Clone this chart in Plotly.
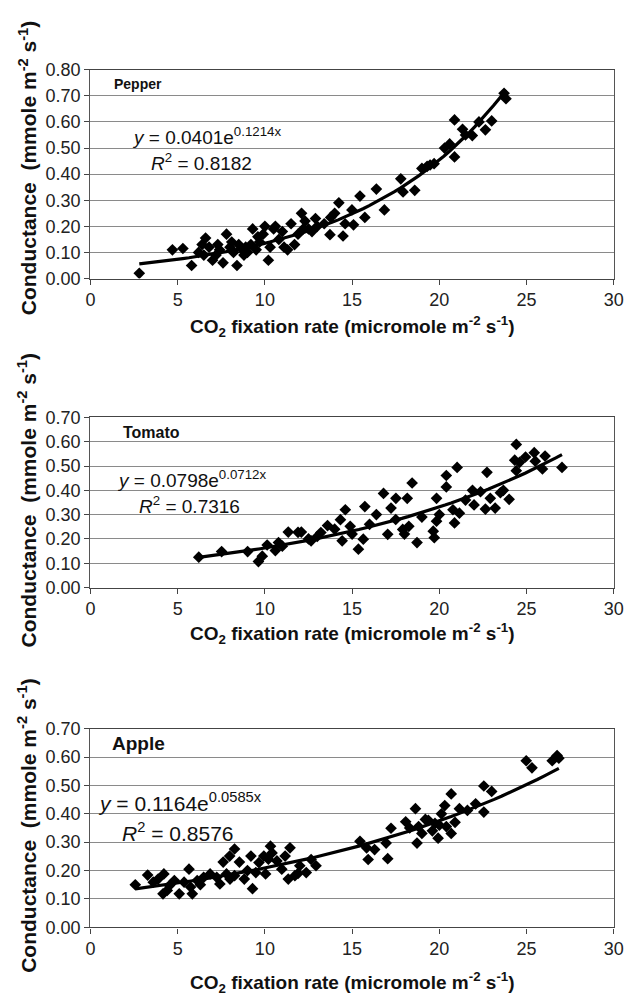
import math
import plotly.graph_objects as go

# ---------------- data ----------------
pepper_x = [2.8, 4.7, 5.3, 5.8, 6.2, 6.4, 6.6, 6.8, 7.0, 7.2, 7.4, 7.6, 7.8, 8.0, 8.2, 8.4,
            8.5, 8.7, 8.9, 9.0, 9.2, 9.3, 9.5, 9.7, 9.9, 10.0, 10.2, 10.3, 10.5, 10.8, 11.0,
            11.3, 11.5, 11.7, 11.9, 12.1, 12.3, 12.5, 12.7, 13.0, 13.4, 13.77, 14.24, 13.73,
            14.48, 14.99, 15.45, 15.08, 15.73, 16.39, 16.85, 17.79, 17.92, 18.59, 19.0, 19.3,
            19.47, 19.7, 20.59, 20.87, 20.87, 21.33, 21.89, 22.27, 22.64, 23.0, 23.71, 23.82,
            6.5, 7.3, 8.1, 8.8, 9.6, 10.6, 11.1, 12.2, 12.9, 14.0, 14.6, 20.3, 21.5]
pepper_y = [0.02, 0.11, 0.115, 0.05, 0.10, 0.13, 0.155, 0.12, 0.07, 0.09, 0.11, 0.06, 0.17, 0.12,
            0.10, 0.05, 0.13, 0.11, 0.12, 0.10, 0.13, 0.19, 0.11, 0.14, 0.17, 0.20, 0.07, 0.12,
            0.19, 0.15, 0.18, 0.11, 0.21, 0.13, 0.17, 0.25, 0.22, 0.19, 0.18, 0.20, 0.21, 0.234,
            0.29, 0.168, 0.163, 0.263, 0.316, 0.206, 0.234, 0.343, 0.263, 0.382, 0.332, 0.338,
            0.422, 0.43, 0.435, 0.44, 0.516, 0.608, 0.466, 0.572, 0.548, 0.60, 0.57, 0.604,
            0.71, 0.689, 0.09, 0.13, 0.14, 0.09, 0.16, 0.20, 0.12, 0.19, 0.23, 0.25, 0.21, 0.50, 0.55]

tomato_x = [6.21, 7.52, 9.01, 9.63, 9.85, 10.13, 10.6, 10.78, 11.34, 11.9, 12.09, 12.65, 13.21,
            13.59, 14.33, 14.61, 14.43, 14.89, 15.36, 15.64, 15.73, 16.39, 16.8, 17.51, 17.23,
            17.04, 18.16, 18.44, 17.9, 18.25, 18.72, 19.65, 19.71, 19.84, 19.84, 20.4, 20.4,
            20.87, 20.78, 21.02, 21.15, 21.99, 21.9, 22.36, 22.73, 22.64, 22.92, 23.2, 23.67,
            24.0, 24.41, 24.32, 24.6, 24.41, 24.94, 25.44, 26.06, 25.91, 27.03,
            11.0, 12.5, 13.0, 14.0, 15.0, 16.0, 17.5, 18.0, 19.0, 20.0, 21.5, 23.5, 25.5]
tomato_y = [0.125, 0.148, 0.148, 0.107, 0.129, 0.175, 0.152, 0.185, 0.228, 0.227, 0.228, 0.192,
            0.226, 0.255, 0.279, 0.32, 0.192, 0.252, 0.158, 0.199, 0.333, 0.30, 0.387, 0.367,
            0.327, 0.219, 0.367, 0.43, 0.239, 0.252, 0.185, 0.232, 0.205, 0.273, 0.367, 0.461,
            0.414, 0.266, 0.32, 0.494, 0.306, 0.34, 0.40, 0.394, 0.474, 0.323, 0.367, 0.327,
            0.40, 0.363, 0.589, 0.524, 0.515, 0.481, 0.537, 0.555, 0.541, 0.488, 0.494,
            0.17, 0.20, 0.21, 0.24, 0.22, 0.26, 0.28, 0.22, 0.29, 0.30, 0.36, 0.39, 0.52]

apple_x = [2.57, 3.28, 3.6, 3.88, 4.21, 4.16, 4.53, 4.81, 5.09, 5.37, 5.65, 5.74, 5.84, 6.12,
           6.49, 6.86, 7.24, 7.42, 7.61, 7.8, 7.98, 8.26, 8.26, 8.54, 8.82, 9.2, 9.29, 9.48,
           9.66, 9.94, 10.04, 10.32, 10.41, 10.69, 10.97, 11.16, 11.44, 11.34, 11.72, 12.0,
           12.37, 12.93, 12.65, 15.45, 15.83, 15.92, 16.29, 16.95, 17.04, 17.23, 18.07, 18.63,
           18.72, 18.81, 19.0, 19.37, 19.75, 19.93, 20.12, 20.31, 20.4, 20.68, 20.68, 21.15,
           21.61, 22.08, 22.55, 22.55, 23.0, 24.98, 25.31, 26.47, 26.75, 26.85,
           4.4, 6.3, 8.0, 9.0, 10.2, 11.9, 18.3, 19.2, 19.6, 20.0, 20.9]
apple_y = [0.15, 0.184, 0.159, 0.17, 0.188, 0.118, 0.147, 0.165, 0.118, 0.159, 0.205, 0.142,
           0.118, 0.165, 0.176, 0.188, 0.176, 0.153, 0.23, 0.188, 0.251, 0.276, 0.182, 0.23,
           0.17, 0.251, 0.136, 0.193, 0.228, 0.251, 0.188, 0.286, 0.262, 0.234, 0.205, 0.251,
           0.28, 0.17, 0.182, 0.217, 0.193, 0.217, 0.239, 0.303, 0.28, 0.239, 0.274, 0.297,
           0.242, 0.349, 0.372, 0.418, 0.297, 0.355, 0.331, 0.377, 0.366, 0.314, 0.40, 0.429,
           0.355, 0.47, 0.331, 0.418, 0.412, 0.435, 0.498, 0.406, 0.479, 0.587, 0.562, 0.587,
           0.605, 0.596,
           0.13, 0.15, 0.17, 0.20, 0.24, 0.19, 0.35, 0.38, 0.34, 0.36, 0.37]

# Trendline coefficients printed on the chart: y = a * exp(b x)
crops = ["Pepper", "Tomato", "Apple"]
fit_a = [0.0401, 0.0798, 0.1164]
fit_b = [0.1214, 0.0712, 0.0585]
r2 = ["0.8182", "0.7316", "0.8576"]
y_max = [0.80, 0.70, 0.70]
x_ticks = [0, 5, 10, 15, 20, 25, 30]

# ---------------- layout geometry ----------------
W, H = 636, 1002
x_dom = [87.5 / W, 623.5 / W]
panel_px = [(61, 274), (415.7, 589.3), (733.3, 936)]


def py(v):
    return 1 - v / H


FONT = "Liberation Sans, Arial, sans-serif"
fig = go.Figure()

datasets = [(pepper_x, pepper_y), (tomato_x, tomato_y), (apple_x, apple_y)]
for i, (xs, ys) in enumerate(datasets):
    sfx = "" if i == 0 else str(i + 1)
    fig.add_trace(go.Scatter(
        x=xs, y=ys, mode="markers", xaxis="x" + sfx, yaxis="y" + sfx,
        marker=dict(symbol="diamond", size=9, color="black"),
        showlegend=False, hoverinfo="skip"))
    xmin, xmax = min(xs), max(xs)
    n = 60
    tx = [xmin + (xmax - xmin) * k / (n - 1) for k in range(n)]
    ty = [fit_a[i] * math.exp(fit_b[i] * t) for t in tx]
    fig.add_trace(go.Scatter(
        x=tx, y=ty, mode="lines", xaxis="x" + sfx, yaxis="y" + sfx,
        line=dict(color="black", width=3.2), showlegend=False, hoverinfo="skip"))

layout = dict(
    width=W, height=H, margin=dict(l=0, r=0, t=0, b=0),
    paper_bgcolor="white", plot_bgcolor="white",
    font=dict(family=FONT, size=18, color="#222"),
    showlegend=False,
)
for i in range(3):
    sfx = "" if i == 0 else str(i + 1)
    top, bot = panel_px[i]
    layout["xaxis" + sfx] = dict(
        domain=x_dom, anchor="y" + sfx, range=[0, 30],
        tickvals=x_ticks, ticktext=[str(t) for t in x_ticks],
        ticks="outside", ticklen=5, tickcolor="#444", tickwidth=1.2,
        showline=True, linecolor="#444", linewidth=1.4, mirror=True,
        showgrid=False, zeroline=False,
        tickfont=dict(family=FONT, size=18, color="#222"))
    yt = [round(k * 0.1, 2) for k in range(int(round(y_max[i] * 10)) + 1)]
    layout["yaxis" + sfx] = dict(
        domain=[py(bot), py(top)], anchor="x" + sfx, range=[0, y_max[i]],
        tickvals=yt, ticktext=[f"{v:.2f}" for v in yt],
        ticks="outside", ticklen=5, tickcolor="#444", tickwidth=1.2,
        showline=True, linecolor="#555", linewidth=1.4, mirror=True,
        showgrid=True, gridcolor="#8a8a8a", gridwidth=1.3, zeroline=False,
        tickfont=dict(family=FONT, size=18, color="#222"))
fig.update_layout(**layout)

# ---------------- annotations ----------------
ytitle = "Conductance  (mmole m<sup>-2</sup> s<sup>-1</sup>)"
xtitle = "CO<sub>2</sub> fixation rate (micromole m<sup>-2</sup> s<sup>-1</sup>)"
ytitle_center = [161, 500, 832]
xtitle_y = [323, 636, 992]
label_pos = [(110, 75), (119, 431), (108, 748)]
label_size = [14, 16, 19]
eq_pos = [(128, 129), (113, 479), (93, 808)]
r2_pos = [(147, 155), (135, 505), (118, 839)]
eq_size = [19, 19, 21]

for i in range(3):
    fig.add_annotation(x=23 / W, y=py(ytitle_center[i]), xref="paper", yref="paper",
                       text=ytitle, textangle=-90, showarrow=False,
                       font=dict(family=FONT, size=21, color="#111", weight="bold"),
                       xanchor="center", yanchor="middle")
    fig.add_annotation(x=355.5 / W, y=py(xtitle_y[i]), xref="paper", yref="paper",
                       text=xtitle, showarrow=False,
                       font=dict(family=FONT, size=19, color="#111", weight="bold"),
                       xanchor="center", yanchor="middle")
    lx, ly = label_pos[i]
    fig.add_annotation(x=lx / W, y=py(ly), xref="paper", yref="paper",
                       text=crops[i], showarrow=False,
                       font=dict(family=FONT, size=label_size[i], color="#111", weight="bold"),
                       xanchor="left", yanchor="middle")
    ex, ey = eq_pos[i]
    fig.add_annotation(x=ex / W, y=py(ey), xref="paper", yref="paper",
                       text=f"<i>y</i> = {fit_a[i]:.4f}e<sup>{fit_b[i]:.4f}x</sup>",
                       showarrow=False, font=dict(family=FONT, size=eq_size[i], color="#111"),
                       xanchor="left", yanchor="middle")
    rx, ry = r2_pos[i]
    fig.add_annotation(x=rx / W, y=py(ry), xref="paper", yref="paper",
                       text=f"<i>R</i><sup>2</sup> = {r2[i]}",
                       showarrow=False, font=dict(family=FONT, size=eq_size[i], color="#111"),
                       xanchor="left", yanchor="middle")

fig.write_html("out.html")
